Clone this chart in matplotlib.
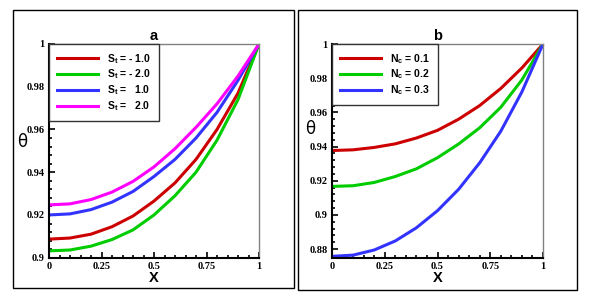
import numpy as np
import matplotlib
matplotlib.use("Agg")
import matplotlib.pyplot as plt
from matplotlib.ticker import MultipleLocator, FormatStrFormatter
from matplotlib.patches import Rectangle

plt.rcParams['mathtext.fontset'] = 'custom'
plt.rcParams['mathtext.rm'] = 'Liberation Sans:bold'
plt.rcParams['mathtext.it'] = 'Liberation Sans:bold'
plt.rcParams['mathtext.bf'] = 'Liberation Sans:bold'

x = [0, 0.1, 0.2, 0.3, 0.4, 0.5, 0.6, 0.7, 0.8, 0.9, 1.0]

# panel a : S_t
st_labels = ["S$_t$ = - 1.0", "S$_t$ = - 2.0", "S$_t$ =   1.0", "S$_t$ =   2.0"]
st_m1 = [0.9087, 0.9092, 0.9110, 0.9145, 0.9195, 0.9265, 0.9350, 0.9460, 0.9600, 0.9770, 1.0]
st_m2 = [0.9032, 0.9036, 0.9054, 0.9085, 0.9130, 0.9200, 0.9290, 0.9400, 0.9550, 0.9740, 1.0]
st_p1 = [0.9200, 0.9205, 0.9225, 0.9260, 0.9310, 0.9380, 0.9460, 0.9560, 0.9680, 0.9830, 1.0]
st_p2 = [0.9247, 0.9252, 0.9272, 0.9307, 0.9357, 0.9425, 0.9510, 0.9610, 0.9720, 0.9850, 1.0]
st_colors = ["#cc0000", "#00cc00", "#3333ff", "#ff00ff"]

# panel b : N_c
nc_labels = ["N$_c$ = 0.1", "N$_c$ = 0.2", "N$_c$ = 0.3"]
nc_1 = [0.9377, 0.9381, 0.9395, 0.9416, 0.9450, 0.9495, 0.9560, 0.9640, 0.9740, 0.9860, 1.0]
nc_2 = [0.9167, 0.9171, 0.9190, 0.9225, 0.9270, 0.9335, 0.9415, 0.9510, 0.9630, 0.9790, 1.0]
nc_3 = [0.8758, 0.8765, 0.8795, 0.8848, 0.8925, 0.9025, 0.9150, 0.9305, 0.9490, 0.9720, 1.0]
nc_colors = ["#cc0000", "#00cc00", "#3333ff"]

fig = plt.figure(figsize=(5.91, 2.97), dpi=100)

# outer frames round each panel
W, H = 591, 297
for (l, t, r, b) in [(13, 10, 294, 288), (298, 10, 577, 290)]:
    fig.patches.append(Rectangle((l / W, 1 - b / H), (r - l) / W, (b - t) / H,
                                 transform=fig.transFigure, fill=False,
                                 edgecolor="black", linewidth=1.0))

ax1 = fig.add_axes([49 / W, 1 - 257.7 / H, 210 / W, 213.7 / H])
ax2 = fig.add_axes([332 / W, 1 - 257.7 / H, 211 / W, 213.7 / H])


def style(ax, ymin, title, th_xy):
    ax.set_xlim(0, 1)
    ax.set_ylim(ymin, 1)
    ax.xaxis.set_major_locator(MultipleLocator(0.25))
    ax.xaxis.set_minor_locator(MultipleLocator(0.05))
    ax.yaxis.set_major_locator(MultipleLocator(0.02))
    ax.yaxis.set_minor_locator(MultipleLocator(0.004))
    ax.xaxis.set_major_formatter(FormatStrFormatter('%g'))
    ax.yaxis.set_major_formatter(FormatStrFormatter('%g'))
    ax.tick_params(which='both', direction='in', top=False, right=False,
                   width=1.2, color='black')
    ax.tick_params(which='major', length=4, pad=3)
    ax.tick_params(which='minor', length=2)
    for lab in ax.get_xticklabels() + ax.get_yticklabels():
        lab.set_family('Liberation Serif')
        lab.set_fontweight('bold')
        lab.set_fontsize(7.5)
    ax.spines['left'].set_linewidth(1.5)
    ax.spines['bottom'].set_linewidth(1.5)
    for s in ['top', 'right']:
        ax.spines[s].set_color('#808080')
        ax.spines[s].set_linewidth(1.0)
    ax.set_xlabel("X", family='Liberation Sans', fontweight='bold', fontsize=10.5, labelpad=0)
    ax.set_ylabel("θ", family='DejaVu Sans', fontsize=12, rotation=0)
    ax.yaxis.set_label_coords(*th_xy)
    ax.set_title(title, family='Liberation Sans', fontweight='bold', fontsize=10.5, pad=3)


for vals, c, lab in zip([st_m1, st_m2, st_p1, st_p2], st_colors, st_labels):
    ax1.plot(x, vals, color=c, linewidth=2.2, label=lab)
style(ax1, 0.9, "a", (-0.13, 0.5))

for vals, c, lab in zip([nc_1, nc_2, nc_3], nc_colors, nc_labels):
    ax2.plot(x, vals, color=c, linewidth=2.2, label=lab)
style(ax2, 0.875, "b", (-0.105, 0.56))

for ax in (ax1, ax2):
    leg = ax.legend(loc='upper left', bbox_to_anchor=(0, 1), borderaxespad=0,
                    fancybox=False, handlelength=4.0, handletextpad=0.8,
                    labelspacing=0.2, borderpad=0.75,
                    prop={'family': 'Liberation Sans', 'weight': 'bold', 'size': 7.5})
    leg.get_frame().set_edgecolor('#333333')
    leg.get_frame().set_linewidth(1.0)
    leg.get_frame().set_alpha(1)

fig.savefig("out.png", dpi=100)
